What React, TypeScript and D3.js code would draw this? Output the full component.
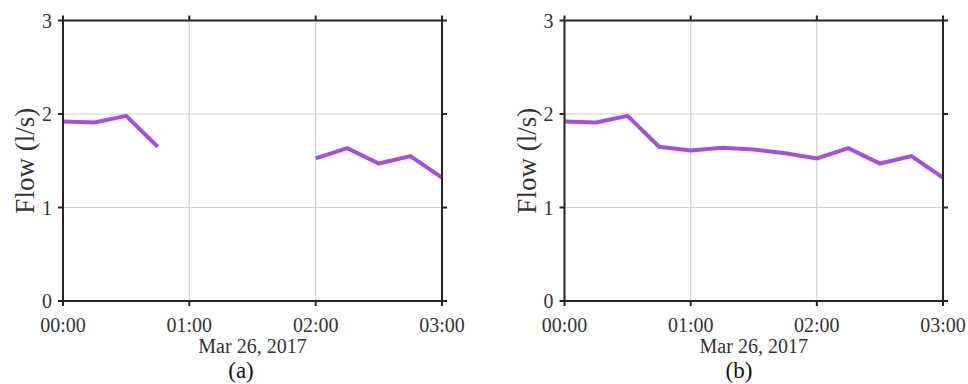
import React from "react";
import * as d3 from "d3";

const times = ["00:00","00:15","00:30","00:45","01:00","01:15","01:30","01:45","02:00","02:15","02:30","02:45","03:00"];
const flowA = [1.92, 1.91, 1.98, 1.65, NaN, NaN, NaN, NaN, 1.525, 1.635, 1.47, 1.55, 1.32];
const flowB = [1.92, 1.91, 1.98, 1.65, 1.61, 1.64, 1.62, 1.58, 1.525, 1.635, 1.47, 1.55, 1.32];
const xTicks = ["00:00", "01:00", "02:00", "03:00"];
const yTicks = [0, 1, 2, 3];
const dateLabel = "Mar 26, 2017";
const yLabel = "Flow (l/s)";

const W = 968, H = 384;
const FONT = "'Liberation Serif', 'Times New Roman', serif";
const LINE_COLOR = "#a64ee2";
const AXIS_COLOR = "#262626";
const GRID_COLOR = "#d2d2d2";

const parse = (s: string) => {
  const [h, m] = s.split(":").map(Number);
  return new Date(2017, 2, 26, h, m);
};

type PanelProps = { left: number; right: number; values: number[]; caption: string; captionX: number };

function Panel({ left, right, values, caption, captionX }: PanelProps) {
  const top = 20.5, bottom = 301;
  const x = d3.scaleTime().domain([parse("00:00"), parse("03:00")]).range([left, right]);
  const y = d3.scaleLinear().domain([0, 3]).range([bottom, top]);
  const pts = times.map((t, i) => ({ t: parse(t), v: values[i] }));
  const line = d3
    .line<{ t: Date; v: number }>()
    .defined((d) => !isNaN(d.v))
    .x((d) => x(d.t))
    .y((d) => y(d.v));
  const tl = 5;
  const cx = (left + right) / 2;
  const cy = (top + bottom) / 2;
  return (
    <g>
      {xTicks.map((t) => (
        <line key={"gx" + t} x1={x(parse(t))} x2={x(parse(t))} y1={top} y2={bottom} stroke={GRID_COLOR} strokeWidth={1.2} />
      ))}
      {yTicks.map((v) => (
        <line key={"gy" + v} x1={left} x2={right} y1={y(v)} y2={y(v)} stroke={GRID_COLOR} strokeWidth={1.2} />
      ))}
      <path d={line(pts) || ""} fill="none" stroke={LINE_COLOR} strokeWidth={4} strokeLinejoin="miter" strokeLinecap="butt" />
      <rect x={left} y={top} width={right - left} height={bottom - top} fill="none" stroke={AXIS_COLOR} strokeWidth={2} />
      {xTicks.map((t) => (
        <g key={"tx" + t}>
          <line x1={x(parse(t))} x2={x(parse(t))} y1={bottom} y2={bottom + tl} stroke={AXIS_COLOR} strokeWidth={2} />
          <line x1={x(parse(t))} x2={x(parse(t))} y1={top} y2={top - tl} stroke={AXIS_COLOR} strokeWidth={2} />
          <text x={x(parse(t))} y={332} textAnchor="middle" fontFamily={FONT} fontSize={20} fill="#333">{t}</text>
        </g>
      ))}
      {yTicks.map((v) => (
        <g key={"ty" + v}>
          <line x1={left - tl} x2={left} y1={y(v)} y2={y(v)} stroke={AXIS_COLOR} strokeWidth={2} />
          <line x1={right} x2={right + tl} y1={y(v)} y2={y(v)} stroke={AXIS_COLOR} strokeWidth={2} />
          <text x={left - 11} y={y(v) + 7} textAnchor="end" fontFamily={FONT} fontSize={20} fill="#333">{v}</text>
        </g>
      ))}
      <text x={cx} y={353} textAnchor="middle" fontFamily={FONT} fontSize={20} fill="#333">{dateLabel}</text>
      <text x={captionX} y={378} textAnchor="middle" fontFamily={FONT} fontSize={23} fill="#111">{caption}</text>
      <text transform={`translate(${left - 29},${cy}) rotate(-90)`} textAnchor="middle" fontFamily={FONT} fontSize={27} fill="#333">{yLabel}</text>
    </g>
  );
}

export default function App() {
  return (
    <svg width={W} height={H} style={{ position: "absolute", left: 0, top: 0, background: "#fff" }}>
      <rect width={W} height={H} fill="#fff" />
      <Panel left={63} right={442} values={flowA} caption="(a)" captionX={241} />
      <Panel left={564.5} right={943} values={flowB} caption="(b)" captionX={739} />
    </svg>
  );
}
